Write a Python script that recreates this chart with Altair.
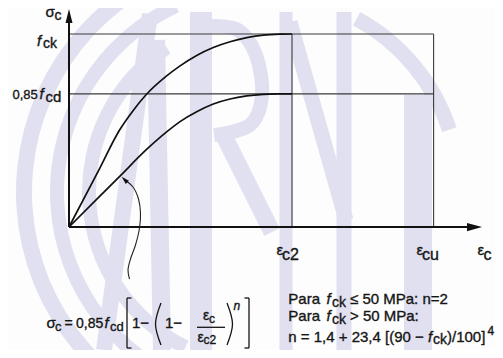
import altair as alt
import pandas as pd

# ---------------- data (diagram units: strain axis with eps_c2 = 2, stress relative to f_ck) ----------------
eps_upper = [0.0, 0.272, 0.451, 0.571, 0.691, 0.870, 0.996, 1.145, 1.294, 1.444, 1.594, 1.743, 1.892, 2.0]
sig_upper = [0.0, 0.300, 0.500, 0.600, 0.685, 0.780, 0.835, 0.889, 0.930, 0.960, 0.981, 0.994, 0.999, 1.0]
eps_lower = [0.0, 0.272, 0.466, 0.691, 0.870, 0.996, 1.145, 1.294, 1.444, 1.594, 1.743, 1.892, 2.0]
sig_lower = [0.0, 0.157, 0.269, 0.399, 0.490, 0.546, 0.597, 0.637, 0.663, 0.679, 0.687, 0.6895, 0.69]

eps_c2 = 2.0
eps_cu = 3.27
f_ck = 1.0
f_085cd = 0.69
x_axis_end = 3.704
y_axis_end = 1.1295

# ---------------- layout ----------------
W, H = 487, 342          # plot area = whole chart (autosize none, padding 0)
OX, OY = 61, 219         # origin position inside plot area (px)
KX, KY = 111.5, 193.0    # px per unit
xs = alt.Scale(domain=[-OX / KX, (W - OX) / KX], nice=False, zero=False)
ys = alt.Scale(domain=[(OY - H) / KY, OY / KY], nice=False, zero=False)


def dx(px):  # page px -> data x
    return (px - 8 - OX) / KX


def dy(py):  # page py -> data y
    return (OY - (py - 8)) / KY


X = lambda f="x": alt.X(f"{f}:Q", scale=xs, axis=None)
Y = lambda f="y": alt.Y(f"{f}:Q", scale=ys, axis=None)

INK = "#151515"
WM = "#e0e0f0"
FONT = "Liberation Sans"

# ---------------- watermark (ABNT logo, faint) ----------------
cx, cy = 262, 192
rings = pd.DataFrame({
    "x": [dx(cx)] * 4, "y": [dy(cy)] * 4,
    "r1": [230, 198, 166, 190], "r2": [246, 212, 180, 205],
    "t0": [3.35, 3.45, 3.6, 0.5], "t1": [5.95, 5.85, 5.7, 1.25],
})
wm_rings = alt.Chart(rings).mark_arc(color=WM).encode(
    x=X(), y=Y(),
    radius=alt.Radius("r2:Q", scale=None), radius2=alt.Radius2("r1:Q"),
    theta=alt.Theta("t0:Q", scale=None), theta2=alt.Theta2("t1:Q"),
)

wm_pts = [
    # A
    ("a1", 0, 150, 14, 16), ("a1", 1, 104, 350, 16),
    ("a2", 0, 156, 40, 18), ("a2", 1, 162, 350, 18),
    # B stem + bowl + leg
    ("b", 0, 201, 12, 22), ("b", 1, 201, 350, 22),
    ("bb", 0, 210, 26, 14), ("bb", 1, 238, 30, 14), ("bb", 2, 256, 55, 14), ("bb", 3, 262, 95, 14),
    ("bb", 4, 250, 125, 14), ("bb", 5, 214, 135, 14),
    ("bl", 0, 222, 132, 17), ("bl", 1, 272, 232, 17),
    # N
    ("n1", 0, 286, 12, 13), ("n1", 1, 286, 350, 13),
    ("n2", 0, 344, 12, 15), ("n2", 1, 344, 350, 15),
    ("nd", 0, 290, 22, 15), ("nd", 1, 346, 220, 15),
    # T
    ("t", 0, 418, 95, 28), ("t", 1, 418, 350, 28),
]
wm_df = pd.DataFrame(wm_pts, columns=["s", "i", "px", "py", "w"])
wm_df["x"] = wm_df["px"].map(dx)
wm_df["y"] = wm_df["py"].map(dy)
wm_letters = alt.Chart(wm_df).mark_line(color=WM, strokeCap="butt", interpolate="cardinal").encode(
    x=X(), y=Y(), detail="s:N", order="i:Q",
    strokeWidth=alt.StrokeWidth("w:Q", scale=None),
)

# ---------------- frame lines ----------------
grid = pd.DataFrame({
    "x": [0, 0, eps_c2, eps_cu],
    "y": [f_ck, f_085cd, 0, 0],
    "x2": [eps_cu, eps_cu, eps_c2, eps_cu],
    "y2": [f_ck, f_085cd, f_ck, f_ck],
})
grid_layer = alt.Chart(grid).mark_rule(color="#3a3a3a", strokeWidth=1.1).encode(
    x=X(), y=Y(), x2="x2:Q", y2="y2:Q")

# ---------------- axes with arrows ----------------
ya_c = y_axis_end - 7 / KY
xa_c = x_axis_end - 7.5 / KX
axes = pd.DataFrame({"x": [0, 0], "y": [0, 0], "x2": [xa_c, 0], "y2": [0, ya_c]})
axes_layer = alt.Chart(axes).mark_rule(color="#111", strokeWidth=2).encode(
    x=X(), y=Y(), x2="x2:Q", y2="y2:Q")
arrow_up = alt.Chart(pd.DataFrame({"x": [0], "y": [ya_c]})).mark_point(
    shape="M0,-1L0.5,1L-0.5,1Z", size=196, filled=True, opacity=1, color="#111", strokeWidth=0
).encode(x=X(), y=Y())
arrow_right = alt.Chart(pd.DataFrame({"x": [xa_c], "y": [0]})).mark_point(
    shape="M1,0L-1,-0.55L-1,0.55Z", size=225, filled=True, opacity=1, color="#111", strokeWidth=0
).encode(x=X(), y=Y())

# ---------------- curves ----------------
curves = pd.concat([
    pd.DataFrame({"x": eps_upper, "y": sig_upper, "c": "fck"}),
    pd.DataFrame({"x": eps_lower, "y": sig_lower, "c": "fcd"}),
])
curve_layer = alt.Chart(curves).mark_line(color="#111", strokeWidth=1.7, interpolate="monotone").encode(
    x=X(), y=Y(), detail="c:N")

# ---------------- annotation pointer ----------------
sq = [(125.5, 180.5), (133, 187), (138.5, 199), (140.5, 213), (139.5, 228), (135.5, 245),
      (130.5, 259), (128, 270), (129.5, 279)]
sq_df = pd.DataFrame({"i": range(len(sq)), "x": [dx(p[0]) for p in sq], "y": [dy(p[1]) for p in sq]})
sq_layer = alt.Chart(sq_df).mark_line(color="#222", strokeWidth=1.1, interpolate="catmull-rom").encode(
    x=X(), y=Y(), order="i:Q")
sq_head = alt.Chart(pd.DataFrame({"x": [dx(124.5)], "y": [dy(179.5)]})).mark_point(
    shape="M0,-1L0.55,1L-0.55,1Z", size=64, angle=315, filled=True, opacity=1, color="#111", strokeWidth=0
).encode(x=X(), y=Y())

# ---------------- formula decorations (brackets, parens, fraction bar) ----------------
segs = [
    (127, 298, 127, 348), (127, 298, 131.5, 298), (127, 348, 131.5, 348),
    (249, 298, 249, 348), (244.5, 298, 249, 298), (244.5, 348, 249, 348),
    (197, 327.3, 225, 327.3),
]
seg_df = pd.DataFrame({"x": [dx(s[0]) for s in segs], "y": [dy(s[1]) for s in segs],
                       "x2": [dx(s[2]) for s in segs], "y2": [dy(s[3]) for s in segs]})
seg_layer = alt.Chart(seg_df).mark_rule(color=INK, strokeWidth=1.3).encode(
    x=X(), y=Y(), x2="x2:Q", y2="y2:Q")
par = [("l", 0, 161, 303), ("l", 1, 155.5, 324), ("l", 2, 161, 345),
       ("r", 0, 227, 303), ("r", 1, 232.5, 324), ("r", 2, 227, 345)]
par_df = pd.DataFrame(par, columns=["s", "i", "px", "py"])
par_df["x"] = par_df["px"].map(dx)
par_df["y"] = par_df["py"].map(dy)
par_layer = alt.Chart(par_df).mark_line(color=INK, strokeWidth=1.3, interpolate="cardinal").encode(
    x=X(), y=Y(), detail="s:N", order="i:Q")

# ---------------- text pieces (page px, left aligned, alphabetic baseline) ----------------
txt = [
    # y-axis title
    ("σ", 45.5, 17, 15, "n"), ("c", 54.5, 20, 14, "n"),
    # f_ck label
    ("f", 37, 45.5, 15, "i"), ("ck", 43, 47.5, 14, "n"),
    # 0,85 f_cd label
    ("0,85", 12.5, 99, 13, "n"), ("f", 39.5, 99, 15, "i"), ("cd", 45.5, 101.5, 15, "n"),
    # x labels
    ("ε", 276.5, 255, 15, "n"), ("c2", 282, 259.5, 16, "n"),
    ("ε", 416.5, 255, 15, "n"), ("cu", 422, 259.5, 16, "n"),
    ("ε", 477.5, 255, 15, "n"), ("c", 483.5, 259.5, 16, "n"),
    # formula
    ("σ", 46.5, 328, 15, "n"), ("c", 55, 331, 13, "n"),
    ("=", 64.5, 328, 14, "n"), ("0,85", 76, 328, 14, "n"),
    ("f", 104.5, 328, 15, "i"), ("cd", 110, 331, 13, "n"),
    ("1−", 132, 328, 15, "n"), ("1−", 165, 328, 15, "n"),
    ("ε", 203, 320, 14, "n"), ("c", 209, 322.5, 12, "n"),
    ("ε", 197.5, 341.5, 14, "n"), ("c2", 203.5, 344, 12, "n"),
    ("n", 233.5, 310, 12, "i"),
    # conditions
    ("Para", 288.3, 304, 15, "n"), ("f", 326.5, 304, 15, "i"), ("ck", 332, 306.5, 14, "n"),
    ("≤ 50 MPa: n=2", 350, 304, 15, "n"),
    ("Para", 288.3, 321, 15, "n"), ("f", 326.5, 321, 15, "i"), ("ck", 332, 323.5, 14, "n"),
    ("> 50 MPa:", 350, 321, 15, "n"),
    ("n = 1,4 + 23,4 [(90 −", 288.3, 341.5, 15, "n"), ("f", 428, 341.5, 15, "i"),
    ("ck", 433, 344, 14, "n"), (")/100]", 447, 341.5, 15, "n"), ("4", 487.5, 335, 12, "n"),
]
txt_df = pd.DataFrame(txt, columns=["t", "px", "py", "size", "st"])
txt_df["x"] = txt_df["px"].map(dx)
txt_df["y"] = txt_df["py"].map(dy)


def text_layer(style, font_style):
    return alt.Chart(txt_df[txt_df["st"] == style]).mark_text(
        align="left", baseline="alphabetic", font=FONT, fontStyle=font_style, color=INK,
        stroke=INK, strokeWidth=0.35,
    ).encode(x=X(), y=Y(), text="t:N", size=alt.Size("size:Q", scale=None, legend=None))


chart = alt.layer(
    wm_rings, wm_letters, grid_layer, curve_layer, axes_layer, arrow_up, arrow_right,
    sq_layer, sq_head, seg_layer, par_layer,
    text_layer("n", "normal"), text_layer("i", "italic"),
).properties(
    width=W, height=H, autosize=alt.AutoSizeParams(type="none"), padding=0,
    background="#fdfdfd",
).configure_view(stroke=None)

chart.save("out.html", embed_options={"renderer": "svg", "actions": False})
